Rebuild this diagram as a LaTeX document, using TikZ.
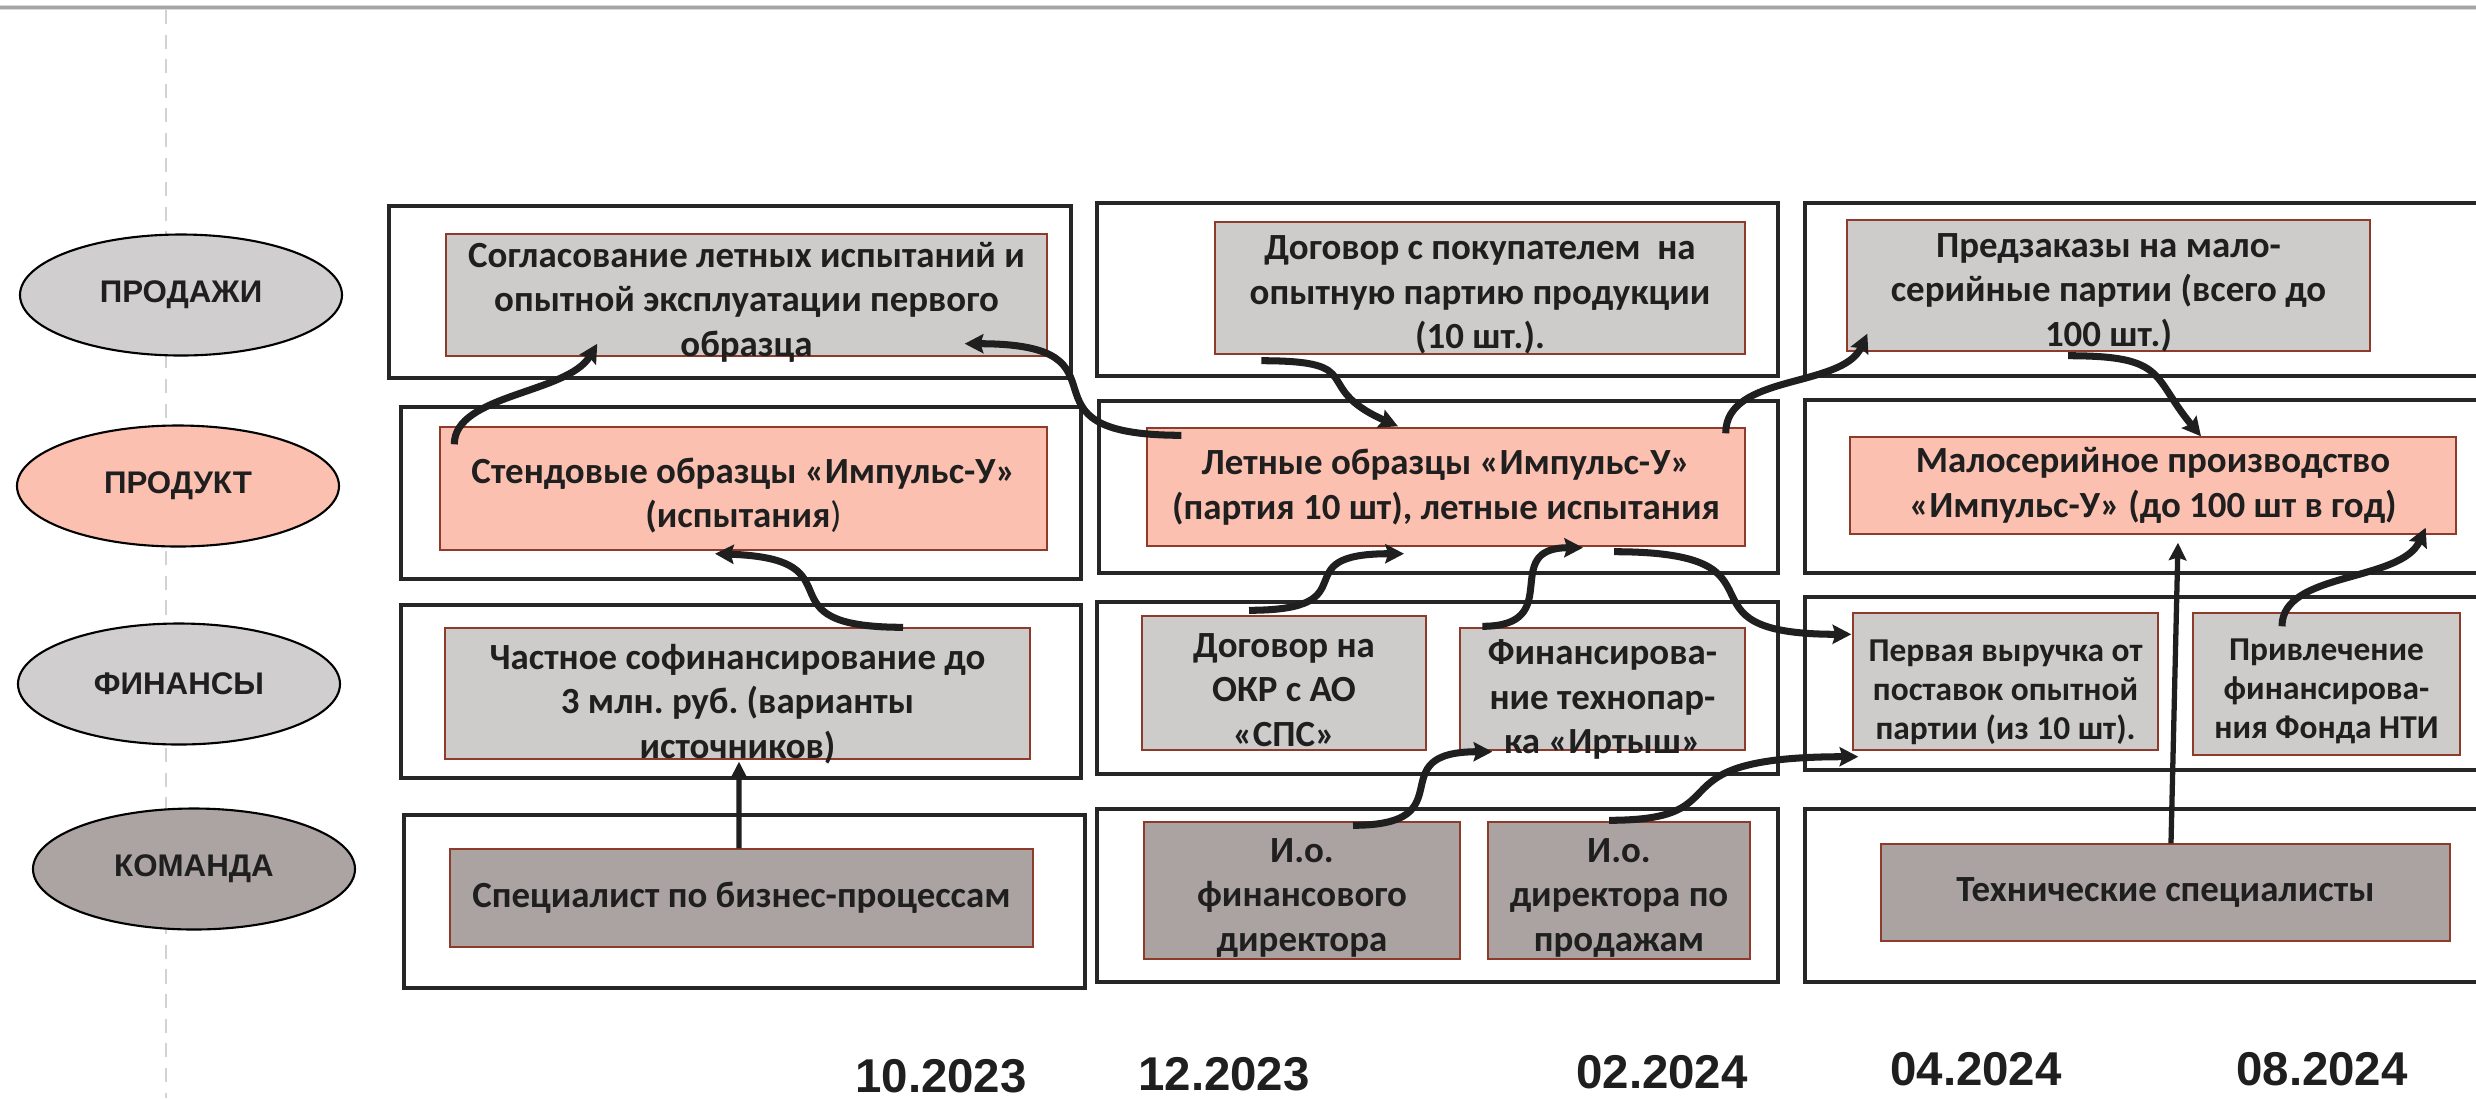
\documentclass[tikz,border=0pt]{standalone}
\usepackage{fontspec}
\setmainfont{Carlito}
\newfontfamily\lanefont{Liberation Sans}
\usetikzlibrary{shapes.geometric,arrows.meta}
\frenchspacing

\definecolor{cellgrey}{HTML}{CDCCCB}
\definecolor{cellpink}{HTML}{FBC0B0}
\definecolor{cellmauve}{HTML}{ABA3A1}
\definecolor{edgered}{HTML}{8E3B2B}
\definecolor{framegrey}{HTML}{262626}
\definecolor{inkdark}{HTML}{1F1F1F}
\definecolor{lanegrey}{HTML}{D0CECE}
\definecolor{lanemauve}{HTML}{ABA4A3}

\begin{document}
\begin{tikzpicture}
  [x=0.1mm, y=0.1mm,
   lane/.style={ellipse, draw=black, line width=0.6pt, minimum width=32.2mm,
     minimum height=12.1mm, inner sep=0, text=inkdark,
     font=\lanefont\bfseries\fontsize{8.9}{10}\selectfont},
   grp/.style 2 args={draw=framegrey, line width=0.9pt, fill=white,
     minimum width=#1, minimum height=#2, inner sep=0},
   cell/.style 2 args={draw=edgered, line width=0.4pt,
     minimum width=#1, minimum height=#2, inner sep=0},
   txt/.style={align=center, inner sep=0, text=inkdark,
     font=\bfseries\fontsize{10.5}{12.66}\selectfont},
   txtsmall/.style={txt, font=\bfseries\fontsize{9.5}{11.1}\selectfont},
   flow/.style={draw=inkdark, line width=2pt,
     -{Stealth[length=5.3pt,width=5.4pt,inset=0.8pt]}},
   rise/.style={draw=inkdark, line width=1.5pt,
     -{Stealth[length=5pt,width=5pt,inset=0.8pt]}},
   date/.style={anchor=base, inner sep=0, text=inkdark,
     font=\lanefont\bfseries\fontsize{13.5}{16}\selectfont}]

  \useasboundingbox (0,0) rectangle (2476,-1098);
  \clip (0,0) rectangle (2476,-1098);

  % header rule and guide line
  \draw[gray!30, line width=1.4pt] (0,-7.5) -- (2476,-7.5);
  \draw[gray!70, line width=0.6pt] (0,-7.5) -- (2476,-7.5);
  \draw[gray!35, line width=0.6pt, dash pattern=on 4pt off 3pt] (166,-10) -- (166,-1098);

  % lanes
  \node[lane, fill=lanegrey] (sales) at (181,-295) {ПРОДАЖИ};
  \node[lane, fill=cellpink] (product) at (178,-486) {ПРОДУКТ};
  \node[lane, fill=lanegrey] (finance) at (179,-684) {ФИНАНСЫ};
  \node[lane, fill=lanemauve] (team) at (194,-869) {КОМАНДА};

  % frames, column 1
  \node[grp={68.2mm}{17.2mm}] (s1) at (730,-292) {};
  \node[grp={68.0mm}{17.2mm}] (p1) at (741,-493) {};
  \node[grp={68.0mm}{17.3mm}] (f1) at (741,-691.5) {};
  \node[grp={68.1mm}{17.3mm}] (t1) at (744.5,-901.5) {};
  % frames, column 2
  \node[grp={68.1mm}{17.3mm}] (s2) at (1437.5,-289.5) {};
  \node[grp={67.9mm}{17.2mm}] (p2) at (1438.5,-487) {};
  \node[grp={68.1mm}{17.2mm}] (f2) at (1437.5,-688) {};
  \node[grp={68.1mm}{17.3mm}] (t2) at (1437.5,-895.5) {};
  % frames, column 3
  \node[grp={68.5mm}{17.3mm}] (s3) at (2147.5,-289.5) {};
  \node[grp={68.5mm}{17.3mm}] (p3) at (2147.5,-486.5) {};
  \node[grp={68.5mm}{17.3mm}] (f3) at (2147.5,-683.5) {};
  \node[grp={68.5mm}{17.3mm}] (t3) at (2147.5,-895.5) {};

  % cells
  \node[cell={60.1mm}{12.2mm}, fill=cellgrey] (sales1) at (746.5,-295) {};
  \node[cell={60.7mm}{12.3mm}, fill=cellpink] (prod1) at (743.5,-488.5) {};
  \node[cell={58.5mm}{13.1mm}, fill=cellgrey] (fin1) at (737.5,-693.5) {};
  \node[cell={58.3mm}{9.8mm}, fill=cellmauve] (team1) at (741.5,-898) {};
  \node[cell={53.0mm}{13.2mm}, fill=cellgrey] (sales2) at (1480,-288) {};
  \node[cell={59.8mm}{11.8mm}, fill=cellpink] (prod2) at (1446,-487) {};
  \node[cell={28.4mm}{13.4mm}, fill=cellgrey] (fin2a) at (1284,-683) {};
  \node[cell={28.5mm}{12.2mm}, fill=cellgrey] (fin2b) at (1602.5,-689) {};
  \node[cell={31.6mm}{13.7mm}, fill=cellmauve] (team2a) at (1302,-890.5) {};
  \node[cell={26.2mm}{13.7mm}, fill=cellmauve] (team2b) at (1619,-890.5) {};
  \node[cell={52.3mm}{13.1mm}, fill=cellgrey] (sales3) at (2108.5,-285.5) {};
  \node[cell={60.6mm}{9.7mm}, fill=cellpink] (prod3) at (2153,-485.5) {};
  \node[cell={30.5mm}{13.7mm}, fill=cellgrey] (fin3a) at (2005.5,-681.5) {};
  \node[cell={26.7mm}{14.2mm}, fill=cellgrey] (fin3b) at (2326.5,-684) {};
  \node[cell={56.9mm}{9.7mm}, fill=cellmauve] (team3) at (2165.5,-892.5) {};

  % cell texts
  \node[txt] (sales1t) at ([yshift=-2]sales1) {Согласование летных испытаний и\\опытной эксплуатации первого\\образца};
  \node[txt] (prod1t) at ([yshift=-2]prod1) {Стендовые образцы «Импульс-У»\\(испытания{\mdseries)}};
  \node[txt] (fin1t) at ([yshift=-3]fin1) {Частное софинансирование до\\3 млн. руб. (варианты\\источников)};
  \node[txt] (team1t) at (team1) {Специалист по бизнес-процессам};
  \node[txt] (sales2t) at ([yshift=-2]sales2) {Договор с покупателем\ \ на\\опытную партию продукции\\(10 шт.).};
  \node[txt] (prod2t) at (prod2) {Летные образцы «Импульс-У»\\(партия 10 шт), летные испытания};
  \node[txt] (fin2at) at ([yshift=-2]fin2a) {Договор на\\ОКР с АО\\«СПС»};
  \node[txt] (fin2bt) at ([yshift=-3]fin2b) {Финансирова-\\ние технопар-\\ка «Иртыш»};
  \node[txt] (team2at) at ([yshift=-2]team2a) {И.о.\\финансового\\директора};
  \node[txt] (team2bt) at ([yshift=-2]team2b) {И.о.\\директора по\\продажам};
  \node[txt] (sales3t) at ([yshift=-2]sales3) {Предзаказы на мало-\\серийные партии (всего до\\100 шт.)};
  \node[txt] (prod3t) at (prod3) {Малосерийное производство\\«Импульс-У» (до 100 шт в год)};
  \node[txtsmall] (fin3at) at ([yshift=-3]fin3a) {Первая выручка от\\поставок опытной\\партии (из 10 шт).};
  \node[txtsmall] (fin3bt) at ([yshift=-2]fin3b) {Привлечение\\финансирова-\\ния Фонда НТИ};
  \node[txt] (team3t) at (team3) {Технические специалисты};

  % links
  \draw[flow] ([shift={(15,-18)}]prod1.north west) .. controls +(0,50) and +(-30,-50) .. ([shift={(152,13)}]sales1.south west);
  \draw[flow] ([shift={(35,-8)}]prod2.north west) .. controls +(-180,0) and +(180,0) .. ([shift={(-83,13)}]sales1.south east);
  \draw[flow] ([shift={(165.5,0)}]fin1.north) .. controls +(-150,0) and +(150,-5) .. ([shift={(-28.5,-3)}]prod1.south);
  \draw[rise] ([shift={(-2.5,0)}]team1.north) -- ([shift={(1.5,-2)}]fin1.south);
  \draw[flow] ([shift={(47,-6)}]sales2.south west) .. controls +(110,0) and +(-90,40) .. ([shift={(-48,1)}]prod2.north);
  \draw[flow] ([shift={(-20,-6)}]prod2.north east) .. controls +(0,60) and +(-25,-55) .. ([shift={(21,18)}]sales3.south west);
  \draw[flow] ([shift={(-40.5,-4)}]sales3.south) .. controls +(100,0) and +(-50,60) .. ([shift={(48,0)}]prod3.north);
  \draw[flow] ([shift={(-35,5)}]fin2a.north) .. controls +(125,0) and +(-125,0) .. ([shift={(-42,-7)}]prod2.south);
  \draw[flow] ([shift={(23,1)}]fin2b.north west) .. controls +(85,0) and +(-85,0) .. ([shift={(137,-1)}]prod2.south);
  \draw[flow] ([shift={(168,-5)}]prod2.south) .. controls +(190,0) and +(-190,0) .. ([shift={(-1,-22)}]fin3a.north west);
  \draw[flow] ([shift={(51,-4)}]team2a.north) .. controls +(115,0) and +(-115,0) .. ([shift={(33,-1)}]fin2b.south west);
  \draw[flow] ([shift={(-10,1)}]team2b.north) .. controls +(140,0) and +(-215,0) .. ([shift={(6,-6)}]fin3a.south west);
  \draw[rise] ([shift={(5.5,0)}]team3.north) -- ([shift={(25,-8)}]prod3.south);
  \draw[flow] ([shift={(-44.5,-14)}]fin3b.north) .. controls +(0,55) and +(-25,-55) .. ([shift={(-31,7)}]prod3.south east);

  % dates
  \node[date] (d1) at (941,-1092) {10.2023};
  \node[date] (d2) at (1224,-1090) {12.2023};
  \node[date] (d3) at (1662,-1088) {02.2024};
  \node[date] (d4) at (1976,-1085) {04.2024};
  \node[date] (d5) at (2322,-1085) {08.2024};

\end{tikzpicture}
\end{document}
